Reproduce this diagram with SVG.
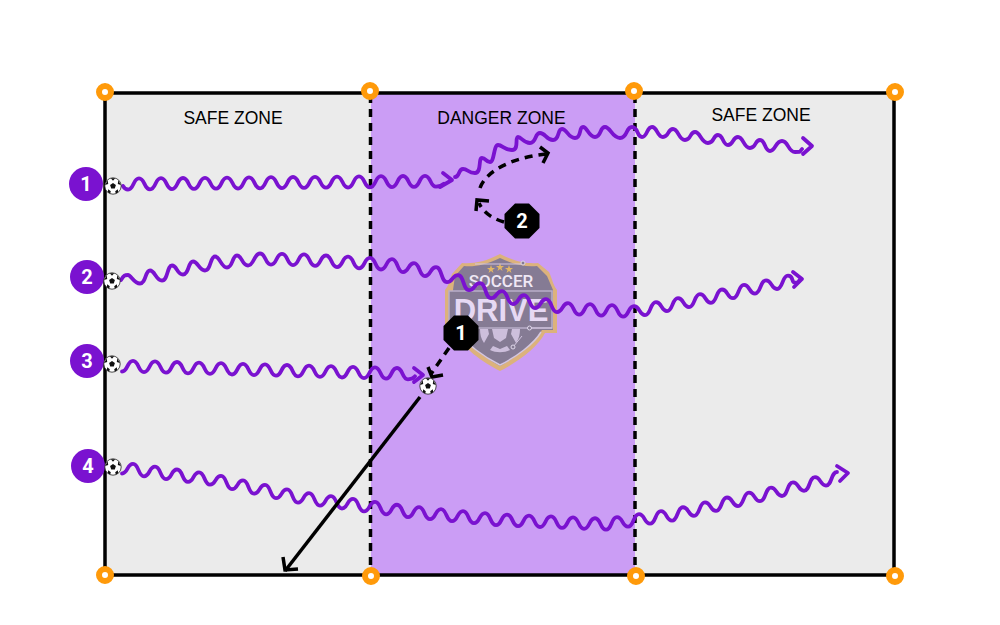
<svg xmlns="http://www.w3.org/2000/svg" width="1000" height="625" viewBox="0 0 1000 625">
<style>
.zl{font:17.5px "Liberation Sans",Arial,sans-serif;fill:#000;text-anchor:middle}
.num{font:700 20px Roboto,"Liberation Sans",sans-serif;fill:#fff;text-anchor:middle}
.w{fill:none;stroke:#7a12d0;stroke-width:3.800;stroke-linecap:round;stroke-linejoin:round}
.d{fill:none;stroke:#000;stroke-width:3.500;stroke-dasharray:8 6}
.h{fill:none;stroke:#000;stroke-width:3.500}
.c{fill:#fff;stroke:#ff9a0a;stroke-width:6}
.p{fill:#7a12d0}
.o{fill:#000}
</style>
<defs>
<g id="ball">
<circle r="8.200" fill="#fff" stroke="#222" stroke-width=".8"/>
<path d="M0-3 2.900-.9 1.800 2.400H-1.800L-2.900-.9Z M-2.200-7.800 2.200-7.800 0-5.200Z M5.300-5.800 7.900-1 4.800-2Z M-5.300-5.800-7.900-1-4.800-2Z M-5.200 6.200-4.800 3.200-2.200 5.200-2.800 7.600Z M5.200 6.200 4.800 3.200 2.200 5.200 2.800 7.600Z" fill="#111"/>
</g>
<polygon id="oct" points="-7,-17.500 7,-17.500 17.500,-7 17.500,7 7,17.500 -7,17.500 -17.500,7 -17.500,-7"/>
<circle id="corner" class="c" r="6"/>
</defs>
<rect width="1000" height="625" fill="#fff"/>
<g id="field">
<rect x="105" y="93" width="789" height="482" fill="#ebebeb"/>
<rect x="371" y="93" width="264" height="482" fill="#cb9df5"/>
<rect x="105" y="93" width="789" height="482" fill="none" stroke="#000" stroke-width="3.500"/>
<path class="d" d="M370.500 95V575M635 95V575"/>
</g>
<g id="zone-labels">
<text class="zl" x="233" y="124">SAFE ZONE</text>
<text class="zl" x="501.500" y="124">DANGER ZONE</text>
<text class="zl" x="761" y="121">SAFE ZONE</text>
</g>
<g id="logo">
<path d="M500 254C485 262 472 264 462 263L452 274C450 280 449 285 445 290V333H455C462 347 482 362 500 371C518 362 538 347 545 333H557V290C553 285 552 278 549 272L538 263C528 264 515 262 500 254Z" fill="#dcb27c"/>
<path d="M500 258C486 265 474 267 464 266L455 276 453 290V330H458C465 343 484 357 500 366C516 357 535 343 542 330H553V290L547 276 537 266C526 267 514 265 500 258Z" fill="#857b94"/>
<path d="M459 332C466 344 484 357 500 365C516 357 534 344 541 332" fill="none" stroke="#d3c6e0" stroke-width="1.500"/>
<rect x="449" y="291" width="103" height="37" fill="#857b94" stroke="#b9aec9" stroke-width="1.500"/>
<path d="M492 329H508L506 338 500 342 494 338ZM480 329H488L489 334 484 343C481 339 480 334 480 329ZM520 329H512L511 334 516 343C519 339 520 334 520 329ZM493 346 500 349 507 346 510 350C504 353 496 353 490 350Z" fill="#cdbfdc"/>
<path d="M491 265 492 268 495 268 492.500 270 493.500 273 491 271 488.500 273 489.500 270 487 268 490 268ZM500 263 501 266 504 266 501.500 268 502.500 271 500 269 497.500 271 498.500 268 496 266 499 266ZM509 265 510 268 513 268 510.500 270 511.500 273 509 271 506.500 273 507.500 270 505 268 508 268Z" fill="#e2b765"/>
<path d="M475 264H521M529 328H552M513 347 522 336" fill="none" stroke="#d3c6e0" stroke-width="1"/>
<circle cx="523" cy="263" r="2" fill="#857b94" stroke="#e0d8ea"/>
<circle cx="529.500" cy="328" r="2" fill="#857b94" stroke="#e0d8ea"/>
<circle cx="513" cy="347" r="2" fill="#857b94" stroke="#e0d8ea"/>
<text x="501" y="287" font-family="Roboto,'Liberation Sans',sans-serif" font-weight="500" font-size="17" fill="#efe8f5" text-anchor="middle">SOCCER</text>
<text x="501" y="321" font-family="'Liberation Sans',Arial,sans-serif" font-weight="700" font-size="31" fill="#e6d9f3" text-anchor="middle">DRIVE</text>
</g>
<g id="connectors">
<path class="w" d="M123 186Q125 189.500 128 189.500c6 0 5 -11.100 11 -11.100s5 10.900 11 10.900 5 -11.100 11 -11.100 5 10.900 11 10.900 5 -11.100 11 -11.100 5 10.900 11 10.900 5 -11.100 11 -11.100 5 10.900 11 10.900 5 -11.100 11 -11.100 5 10.900 11 10.900 5 -11.100 11 -11.100 5 10.900 11 10.900 5 -11.100 11 -11.100 5 10.900 11 10.900 5 -11.100 11 -11.100 5 10.900 11 10.900 5 -11.100 11 -11.100 5 10.900 11 10.900 5 -11.100 11 -11.100 5 10.900 11 10.900 5 -11.100 11 -11.100 5 10.900 11 10.900 5 -11.100 11 -11.100 5 10.900 11 10.900 5 -11.100 11 -11.100 5 10.900 11 10.900 5 -11.100 11 -11.100 5 10.900 11 10.900q5 0 8 -3"/>
<path class="w" d="M443 173 452 180 440 187"/>
<path class="w" d="M455 177C460 177 458 169 463 169S468 173 475 173 478 158 482 158 485.500 162 490 162 493.500 145 498 145 504.500 150 512 150 514.500 137 518 137 523.500 143 530 143 534.500 133 540 133 546 140 553 140 557 129 562 129 568 138 575 138 578.500 127 583 127 588.500 137 595 137 599.500 127 605 127 612 138 620 138 625.500 127 632 127 636.500 137 642 137 646.500 127 652 127 657 137 663 137 667.500 129 673 129 678.500 140 685 140 689.500 132 695 132 701 143 708 143 712.500 135 718 135 722.500 145 728 145 732.500 137 738 137 743.500 148 750 148 754.500 140 760 140 764.500 151 770 151 775.500 141 782 141 788 152 795 152 799 152 802 149"/>
<path class="w" d="M803 138 812 146 803 154"/>
<path class="w" d="M121 280C124 275 125 275 128 275S134 283.500 140 283.500 145 270.500 150 270.500 156 280.500 162 280.500 167 265.500 172 265.500 177 274.500 183 274.500 188 261.500 193 261.500 199 270.500 205 270.500 210 256.500 215 256.500 221 267.500 227 267.500 232 255.500 237 255.500 242 265.500 248 265.500 254 253.500 260 253.500s5 11.200 11 11.200 5 -10.800 11 -10.800 5 11.200 11 11.200 5 -10.800 11 -10.800 5 11.600 11 11.600 5 -10.400 11 -10.400 5 11.600 11 11.600 5 -10.400 11 -10.400 5 11.600 11 11.600 5 -10.400 11 -10.400 5 11.600 11 11.600 5 -10.400 11 -10.400 5 13 11 13 5 -9 11 -9 5 13 11 13 5 -9 11 -9 5 15 11 15 5 -7 11 -7 5 15 11 15 5 -7 11 -7 5 15 11 15 5 -7 11 -7 5 13 11 13 5 -9 11 -9 5 13 11 13 5 -9 11 -9 5 13 11 13 5 -9 11 -9 5 11.500 11 11.500 5 -10.500 11 -10.500 5 11.500 11 11.500 5 -10.500 11 -10.500 5 11.500 11 11.500 5 -10.500 11 -10.500 5 9 11 9 5 -13 11 -13 5 9 11 9 5 -13 11 -13 5 9 11 9 5 -13 11 -13 5 8.700 11 8.700 5 -13.300 11 -13.300 5 8.700 11 8.700 5 -13.300 11 -13.300 5 8.700 11 8.700 5 -13.300 11 -13.300 5 8.700 11 8.700 5 -13.300 11 -13.300 3 7 7 7 3 -1 5 -3"/>
<path class="w" d="M793 272 802 279 794 287"/>
<path class="w" d="M122 371.500c6 0 5 -10.700 11 -10.700s5 11.300 11 11.300 5 -10.700 11 -10.700 5 11.300 11 11.300 5 -10.700 11 -10.700 5 11.300 11 11.300 5 -10.700 11 -10.700 5 11.300 11 11.300 5 -10.700 11 -10.700 5 11.300 11 11.300 5 -10.700 11 -10.700 5 11.300 11 11.300 5 -10.700 11 -10.700 5 11.300 11 11.300 5 -10.700 11 -10.700 5 11.300 11 11.300 5 -10.700 11 -10.700 5 11.300 11 11.300 5 -10.700 11 -10.700 5 11.300 11 11.300 5 -10.700 11 -10.700 5 11.300 11 11.300 5 -10.700 11 -10.700 5 11.300 11 11.300 5 -10.700 11 -10.700 5 11.300 11 11.300q5 0 7 -3"/>
<path class="w" d="M414 368 423 375 414 382"/>
<path class="w" d="M122 473.500c6 0 5 -9.600 11 -9.600s5 12.400 11 12.400 5 -9.600 11 -9.600 5 12.400 11 12.400 5 -9.600 11 -9.600 5 12.400 11 12.400 5 -9.600 11 -9.600 5 12.400 11 12.400 5 -8.750 11 -8.750 5 13.250 11 13.250 5 -8.750 11 -8.750 5 13.250 11 13.250 5 -8.750 11 -8.750 5 13.250 11 13.250 5 -8.750 11 -8.750 5 13.250 11 13.250 5 -9.550 11 -9.550 5 12.450 11 12.450 5 -9.550 11 -9.550 5 12.450 11 12.450 5 -9.550 11 -9.550 5 12.450 11 12.450 5 -9.550 11 -9.550 5 12.450 11 12.450 5 -9.550 11 -9.550 5 12.450 11 12.450 5 -10 11 -10 5 12 11 12 5 -10 11 -10 5 12 11 12 5 -10 11 -10 5 12 11 12 5 -10 11 -10 5 12 11 12 5 -10.550 11 -10.550 5 11.450 11 11.450 5 -10.550 11 -10.550 5 11.450 11 11.450 5 -10.550 11 -10.550 5 11.450 11 11.450 5 -10.550 11 -10.550 5 11.450 11 11.450 5 -10.550 11 -10.550 5 11.450 11 11.450 5 -12.500 11 -12.500 5 9.500 11 9.500 5 -12.500 11 -12.500 5 9.500 11 9.500 5 -12.500 11 -12.500 5 9.500 11 9.500 5 -13.440 11 -13.440 5 8.560 11 8.560 5 -13.440 11 -13.440 5 8.560 11 8.560 5 -13.440 11 -13.440 5 8.560 11 8.560 5 -13.440 11 -13.440 5 8.560 11 8.560 5 -13.600 11 -13.600 5 8.400 11 8.400 5 -13.600 11 -13.600 5 8.400 11 8.400 5 -13.600 11 -13.600 5 8.400 11 8.400 5 -13.600 11 -13.600"/>
<path class="w" d="M837 466 848 473 840 481"/>
<path class="d" d="M449 348 431 374"/>
<path class="h" d="M428 367 432 377 443 375"/>
<path class="d" d="M504 222C494 219 484 214 479 203"/>
<path class="h" d="M476 211 477 200 489 201"/>
<path class="d" d="M480 188C486 170 515 157 546 154"/>
<path class="h" d="M540 147 548 153 543 163"/>
<path class="h" d="M420 397 285 571"/>
<path class="h" d="M283 557 285 570 298 569"/>
</g>
<g id="corner-markers">
<use href="#corner" x="105" y="92"/><use href="#corner" x="370" y="91"/><use href="#corner" x="634" y="91"/><use href="#corner" x="895" y="92"/>
<use href="#corner" x="105" y="575"/><use href="#corner" x="371" y="576"/><use href="#corner" x="636" y="576"/><use href="#corner" x="895" y="576"/>
</g>
<g id="player-1"><circle class="p" cx="86" cy="184" r="17"/><text class="num" x="86" y="191">1</text><use href="#ball" x="113" y="186"/></g>
<g id="player-2"><circle class="p" cx="87" cy="277" r="17"/><text class="num" x="87" y="284">2</text><use href="#ball" x="112" y="281"/></g>
<g id="player-3"><circle class="p" cx="87" cy="361" r="17"/><text class="num" x="87" y="368">3</text><use href="#ball" x="112" y="364"/></g>
<g id="player-4"><circle class="p" cx="88" cy="466" r="17"/><text class="num" x="88" y="473">4</text><use href="#ball" x="113" y="467"/></g>
<g id="ball-free"><use href="#ball" x="428" y="386"/></g>
<g id="defender-1"><use href="#oct" class="o" x="461" y="333"/><text class="num" x="461" y="340">1</text></g>
<g id="defender-2"><use href="#oct" class="o" x="522" y="221"/><text class="num" x="522" y="228">2</text></g>
</svg>
